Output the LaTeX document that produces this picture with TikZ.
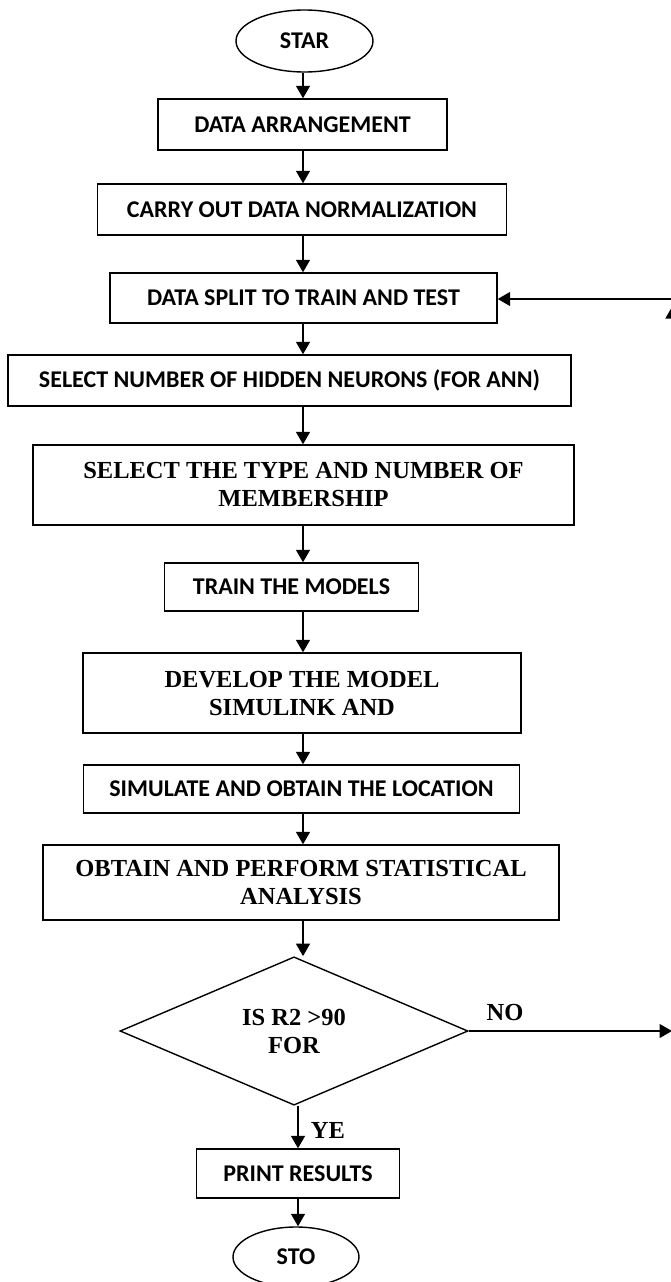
\documentclass[tikz,border=0pt]{standalone}
\usepackage{fontspec}
\usetikzlibrary{
  arrows.meta,
  positioning,
  shapes.geometric,
}
\newfontfamily\flowsans{Carlito}
\newfontfamily\flowserif{Liberation Serif}
\tikzset{
  >={Triangle[length=12.5pt,width=14pt]},
}

\begin{document}
\begin{tikzpicture}[
      x=1pt, y=-1pt, line width=1.4pt,
      box/.style={draw, rectangle, inner sep=0pt, align=center,
        font=\flowsans\bfseries\fontsize{24}{28}\selectfont},
      tbox/.style={box, font=\flowserif\bfseries\fontsize{24.5}{28}\selectfont},
      term/.style={box, ellipse},
      decision/.style={tbox, diamond},
    ]
      \useasboundingbox (0,0) rectangle (670,1282);
      \coordinate (spine) at (303,0);
      \node [term, minimum width=137pt, minimum height=62pt] (start) at (304.5,41) {STAR};
      \node [box, minimum width=289pt, minimum height=51pt] (arrange) at (302.5,124.5) {DATA ARRANGEMENT};
      \node [box, minimum width=409pt, minimum height=51pt] (normal) at (302,209.5) {CARRY OUT DATA NORMALIZATION};
      \node [box, minimum width=387pt, minimum height=50pt] (split) at (303.5,298) {DATA SPLIT TO TRAIN AND TEST};
      \node [box, minimum width=563pt, minimum height=51pt] (hidden) at (289.5,380.5) {SELECT NUMBER OF HIDDEN NEURONS (FOR ANN)};
      \node [tbox, minimum width=541pt, minimum height=80pt] (member) at (303.5,485) {SELECT THE TYPE AND NUMBER OF\\MEMBERSHIP};
      \node [box, minimum width=254pt, minimum height=48pt] (train) at (291.5,587) {TRAIN THE MODELS};
      \node [tbox, minimum width=438pt, minimum height=80pt] (develop) at (302,693) {DEVELOP THE MODEL\\SIMULINK AND};
      \node [box, minimum width=436pt, minimum height=48pt] (simulate) at (301.5,789) {SIMULATE AND OBTAIN THE LOCATION};
      \node [tbox, minimum width=516pt, minimum height=75pt] (analysis) at (301,882.5) {OBTAIN AND PERFORM STATISTICAL\\ANALYSIS};
      \node [decision, minimum width=348pt, minimum height=145pt] (decide) at (294,1031) {IS R2 >90\\FOR};
      \node [box, minimum width=203pt, minimum height=49pt] (print) at (298,1173.5) {PRINT RESULTS};
      \node [term, minimum width=126pt, minimum height=60pt] (stop) at (296,1257) {STO};
      \node [tbox, draw=none] (no) at (505,1012) {NO};
      \node [tbox, draw=none] (yes) at (328,1130) {YE};
      \coordinate (noend) at (672,1031);
      \coordinate (upend) at (672.5,306);
      \coordinate (looptop) at (672,299);
      \path [->] (start.south -| spine) edge (arrange.north -| spine)
                 (arrange.south -| spine) edge (normal.north -| spine)
                 (normal.south -| spine) edge (split.north -| spine)
                 (split.south -| spine) edge (hidden.north -| spine)
                 (hidden.south -| spine) edge (member.north -| spine)
                 (member.south -| spine) edge (train.north -| spine)
                 (train.south -| spine) edge (develop.north -| spine)
                 (develop.south -| spine) edge (simulate.north -| spine)
                 (simulate.south -| spine) edge (analysis.north -| spine)
                 (analysis.south -| spine) edge (decide.north -| spine)
                 (decide.south -| print) edge (print.north)
                 (print.south) edge (print.south |- stop.north)
                 (decide.east) edge (noend)
                 (noend -| upend) edge (upend)
                 (looptop) edge (looptop -| split.east);
    \end{tikzpicture}
\end{document}
